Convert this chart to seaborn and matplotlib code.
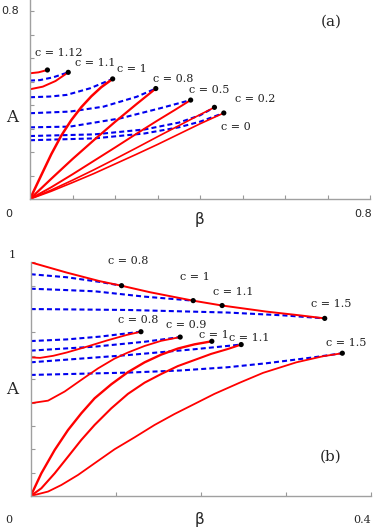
import numpy as np
import pandas as pd
import matplotlib
matplotlib.use("Agg")
import matplotlib.pyplot as plt
import seaborn as sns

# ---------------- panel (a) ----------------
a_red_c = [1.12, 1.1, 1, 0.8, 0.5, 0.2, 0]
a_red_beta = [
    [0, .02, .041],
    [0, .03, .06, .09],
    [0, .0267, .0502, .0737, .0973, .1208, .1443, .1678, .1945],
    [0, .05, .1, .15, .2, .25, .296],
    [0, .05, .1, .15, .2, .25, .3, .34, .378],
    [0, .05, .1, .15, .2, .25, .3, .35, .4, .434],
    [0, .05, .1, .15, .2, .25, .3, .35, .4, .456],
]
a_red_A = [
    [.535, .539, .549],
    [.467, .478, .502, .539],
    [0, .102, .191, .270, .336, .391, .437, .476, .511],
    [0, .086, .170, .250, .328, .403, .470],
    [0, .050, .105, .162, .219, .277, .334, .378, .421],
    [0, .038, .080, .124, .170, .217, .265, .312, .359, .390],
    [0, .033, .070, .108, .149, .190, .232, .276, .320, .366],
]
a_red_lw = [1.4, 1.4, 1.8, 1.6, 1.4, 1.2, 1.2]

a_dash_beta = [
    [0, .0235, .0549, .090],
    [0, .047, .0863, .1412, .1945],
    [0, .094, .173, .251, .296],
    [0, .094, .212, .306, .378],
    [0, .152, .27, .35, .40, .434],
    [0, .152, .27, .35, .40, .456],
]
a_dash_A = [
    [.504, .506, .518, .539],
    [.433, .436, .443, .471, .511],
    [.365, .372, .393, .435, .470],
    [.305, .308, .343, .386, .421],
    [.268, .275, .296, .325, .356, .390],
    [.250, .258, .279, .305, .329, .366],
]

a_dot_beta = [.041, .090, .1945, .296, .378, .434, .456]
a_dot_A = [.549, .539, .511, .470, .421, .390, .366]

a_lab_text = ["c = 1.12", "c = 1.1", "c = 1", "c = 0.8", "c = 0.5", "c = 0.2", "c = 0"]
a_lab_beta = [.012, .106, .205, .289, .373, .482, .449]
a_lab_A = [.62, .58, .553, .509, .464, .424, .305]

# ---------------- panel (b) ----------------
b_red_c = ["env", 0.8, 0.9, 1, 1.1, 1.5]
b_red_beta = [
    [0, .0423, .0814, .1065, .1401, .1906, .2250, .2771, .3162, .3456],
    [0, .011, .0266, .0423, .066, .0892, .1127, .1296],
    [0, .0204, .0399, .0595, .0791, .0986, .1143, .1339, .1534, .1757],
    [0, .0125, .0282, .0438, .0595, .0751, .0947, .1143, .1339, .1534, .1730, .1926, .2129],
    [0, .0125, .0282, .0438, .0595, .0751, .0947, .1143, .1339, .1534, .1730, .1926, .2121, .2317, .2474],
    [0, .0204, .0360, .0556, .0751, .0986, .1221, .1456, .1691, .1926, .2160, .2458, .2732, .3123, .3436, .3663],
]
b_red_A = [
    [1, .956, .919, .900, .872, .836, .815, .789, .773, .760],
    [.593, .591, .600, .614, .639, .665, .689, .703],
    [.397, .408, .447, .497, .546, .588, .614, .642, .664, .680],
    [0, .097, .197, .282, .354, .418, .478, .530, .572, .605, .631, .649, .662],
    [0, .033, .097, .168, .240, .304, .375, .437, .485, .522, .556, .582, .608, .629, .648],
    [0, .019, .047, .090, .140, .200, .251, .304, .351, .394, .437, .485, .527, .572, .598, .611],
]
b_red_lw = [1.4, 1.3, 1.3, 1.7, 1.5, 1.3]

b_dash_beta = [
    [0, .0423, .0814, .1065],
    [0, .036, .0751, .1339, .1906],
    [0, .1143, .2317, .2967, .3456],
    [0, .0423, .0814, .1296],
    [0, .0751, .1339, .1757],
    [0, .1143, .1926, .2474],
    [0, .1143, .1753, .2317, .2771, .3319, .3663],
]
b_dash_A = [
    [.949, .936, .916, .900],
    [.887, .882, .876, .853, .836],
    [.800, .796, .785, .773, .760],
    [.663, .670, .682, .703],
    [.622, .639, .660, .680],
    [.572, .603, .628, .648],
    [.518, .528, .537, .551, .568, .593, .611],
]

b_dot_beta = [.1068, .191, .225, .3456, .1296, .1757, .2129, .2474, .3663]
b_dot_A = [.900, .836, .815, .760, .703, .680, .662, .648, .611]

b_lab_text = ["c = 0.8", "c = 1", "c = 1.1", "c = 1.5",
              "c = 0.8", "c = 0.9", "c = 1", "c = 1.1", "c = 1.5"]
b_lab_beta = [.091, .175, .214, .330, .103, .1585, .1977, .233, .3476]
b_lab_A = [1.007, .936, .872, .822, .753, .730, .689, .678, .653]

sns.set_style("white")
plt.rcParams['font.family'] = ['DejaVu Sans']

fig = plt.figure(figsize=(3.74, 5.28), dpi=100)
ax1 = fig.add_axes([30 / 374, 1 - 199 / 528, 340 / 374, 199 / 528])
ax2 = fig.add_axes([30.7 / 374, 1 - 496 / 528, 340.3 / 374, 233.7 / 528])

dash_style = (0, (2.4, 1.5))


def draw_panel(ax, red_beta, red_A, red_lw, dash_beta, dash_A, dot_beta, dot_A):
    for b, a in zip(dash_beta, dash_A):
        sns.lineplot(x=b, y=a, ax=ax, color='#0000ee', lw=1.5, linestyle=dash_style,
                     sort=False, estimator=None)
    for b, a, w in zip(red_beta, red_A, red_lw):
        sns.lineplot(x=b, y=a, ax=ax, color='#ff0000', lw=w, sort=False, estimator=None)
    sns.scatterplot(x=dot_beta, y=dot_A, ax=ax, color='black', s=14, edgecolor='none', zorder=5)


draw_panel(ax1, a_red_beta, a_red_A, a_red_lw, a_dash_beta, a_dash_A, a_dot_beta, a_dot_A)
draw_panel(ax2, b_red_beta, b_red_A, b_red_lw, b_dash_beta, b_dash_A, b_dot_beta, b_dot_A)

ax1.set_xlim(0, 0.8)
ax1.set_ylim(0, 199 / 235)
ax2.set_xlim(0, 0.4)
ax2.set_ylim(0, 1.0)

for ax, xt, yt in [(ax1, np.arange(0.1, 0.81, 0.1), np.arange(0.1, 0.81, 0.1)),
                   (ax2, np.arange(0.1, 0.41, 0.1), np.arange(0.1, 1.01, 0.1))]:
    ax.set_xticks(xt)
    ax.set_yticks(yt)
    ax.set_xticklabels([])
    ax.set_yticklabels([])
    ax.tick_params(direction='in', length=3, width=0.8, color='#999999')
    ax.xaxis.set_ticks_position('bottom')
    ax.yaxis.set_ticks_position('left')
    for s in ['top', 'right']:
        ax.spines[s].set_visible(False)
    for s in ['left', 'bottom']:
        ax.spines[s].set_color('#a0a0a0')
        ax.spines[s].set_linewidth(1.0)
    ax.set_xlabel('')
    ax.set_ylabel('')
    ax.patch.set_alpha(0)

serif = ['DejaVu Serif']
for t, b, a in zip(a_lab_text, a_lab_beta, a_lab_A):
    ax1.text(b, a, t, fontsize=8, family=serif, ha='left', va='center', color='#222222')
for t, b, a in zip(b_lab_text, b_lab_beta, b_lab_A):
    ax2.text(b, a, t, fontsize=8, family=serif, ha='left', va='center', color='#222222', clip_on=False)

# axis annotations
ax1.text(-0.047, 0.8, "0.8", fontsize=8, ha='center', va='center')
ax1.text(-0.049, -0.064, "0", fontsize=8, ha='center', va='center')
ax1.text(0.8055, -0.064, "0.8", fontsize=8, ha='right', va='center')
ax1.text(0.4, -0.089, "β", fontsize=11, ha='center', va='center')
ax1.text(-0.042, 0.345, "A", fontsize=12, family=serif, ha='center', va='center')
ax1.text(0.71, 0.755, "(a)", fontsize=11, family=serif, ha='center', va='center')

ax2.text(-0.022, 1.031, "1", fontsize=8, family=serif, ha='center', va='center')
ax2.text(-0.0255, -0.103, "0", fontsize=8, family=serif, ha='center', va='center')
ax2.text(0.4005, -0.103, "0.4", fontsize=8, family=serif, ha='right', va='center')
ax2.text(0.199, -0.1, "β", fontsize=11, ha='center', va='center')
ax2.text(-0.022, 0.454, "A", fontsize=12, family=serif, ha='center', va='center')
ax2.text(0.353, 0.167, "(b)", fontsize=11, family=serif, ha='center', va='center')

fig.savefig("out.png", dpi=100)
